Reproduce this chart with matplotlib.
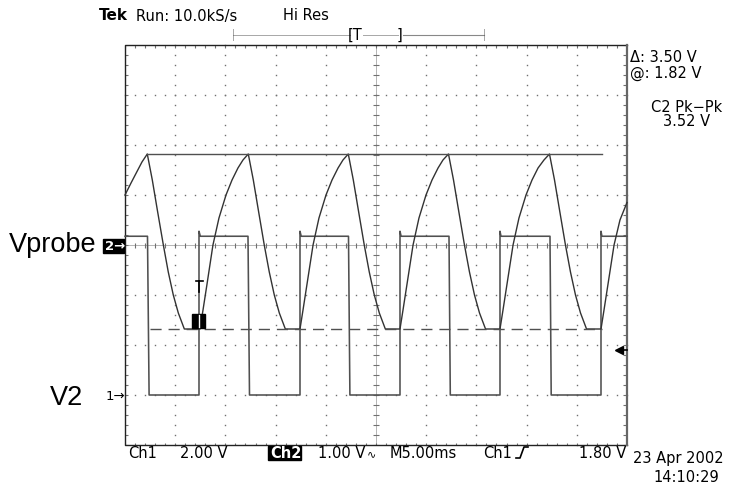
import numpy as np
import matplotlib
matplotlib.use("Agg")
import matplotlib.pyplot as plt
from matplotlib.collections import LineCollection
from matplotlib.patches import Rectangle

W, H = 737, 484

# scope settings
ms_per_div = 5.0
ch1_volts_per_div = 2.0
ch1_ground_div = -3.0
ch2_volts_per_div = 1.0
ch2_ground_div = 0.0
trig_level = 1.80

# Ch1 (V2) square wave: time in ms, volts
ch1_t = [-25.0, -22.76, -22.6, -17.63, -17.63, -17.5,
         -12.75, -12.6, -7.57, -7.57, -7.45,
         -2.74, -2.6, 2.39, 2.39, 2.5,
         7.27, 7.4, 12.35, 12.35, 12.45,
         17.33, 17.45, 22.41, 22.41, 22.5, 25.0]
ch1_v = [6.35, 6.35, 0.0, 0.0, 6.55, 6.35,
         6.35, 0.0, 0.0, 6.55, 6.35,
         6.35, 0.0, 0.0, 6.55, 6.35,
         6.35, 0.0, 0.0, 6.55, 6.35,
         6.35, 0.0, 0.0, 6.55, 6.35, 6.35]

# Ch2 (Vprobe): time in ms, volts
ch2_t = [-25.0, -24.40, -23.83, -23.31, -22.78,
         -22.28, -21.78, -21.18, -20.69, -20.19, -19.69, -19.09,
         -17.53, -17.23, -16.83, -16.24, -15.64, -14.94, -14.34, -13.75, -13.25, -12.72,
         -12.22, -11.72, -11.13, -10.63, -10.13, -9.63, -9.03,
         -7.57, -7.27, -6.87, -6.27, -5.68, -4.98, -4.38, -3.78, -3.29, -2.76,
         -2.26, -1.76, -1.17, -0.67, -0.17, 0.33, 0.93,
         2.39, 2.69, 3.09, 3.69, 4.28, 4.98, 5.58, 6.18, 6.67, 7.22,
         7.72, 8.22, 8.81, 9.31, 9.81, 10.31, 10.91,
         12.35, 12.65, 13.05, 13.65, 14.24, 14.94, 15.54, 16.14, 16.73, 17.28,
         17.78, 18.28, 18.87, 19.37, 19.87, 20.37, 20.97,
         22.41, 22.71, 23.11, 23.71, 24.30, 25.0]
ch2_v = [1.00, 1.24, 1.46, 1.66, 1.82,
         1.30, 0.70, 0.0, -0.54, -1.0, -1.36, -1.68,
         -1.68, -1.30, -0.78, 0.0, 0.54, 1.0, 1.30, 1.54, 1.70, 1.82,
         1.30, 0.70, 0.0, -0.54, -1.0, -1.36, -1.68,
         -1.68, -1.30, -0.78, 0.0, 0.54, 1.0, 1.30, 1.54, 1.70, 1.82,
         1.30, 0.70, 0.0, -0.54, -1.0, -1.36, -1.68,
         -1.68, -1.30, -0.78, 0.0, 0.54, 1.0, 1.30, 1.54, 1.70, 1.82,
         1.30, 0.70, 0.0, -0.54, -1.0, -1.36, -1.68,
         -1.68, -1.30, -0.78, 0.0, 0.54, 1.0, 1.30, 1.54, 1.70, 1.82,
         1.30, 0.70, 0.0, -0.54, -1.0, -1.36, -1.68,
         -1.68, -1.30, -0.78, 0.0, 0.50, 0.85]

# horizontal bar cursors on Ch2
cursor_at = 1.82
cursor_delta = 3.50
cursor_t0, cursor_t1 = -22.5, 22.5

fig = plt.figure(figsize=(W / 100, H / 100), dpi=100)
ax = fig.add_axes([125 / W, 1 - 445 / H, 502 / W, 400 / H])
ax.set_xlim(-5, 5)
ax.set_ylim(-4, 4)
ax.axis("off")

grid_c = "#707070"
dot = dict(ls="none", marker="s", ms=1.0, mec="none", mfc=grid_c, clip_on=False)

# graticule dots on the major lines
steps_x = np.arange(-5, 5.001, 0.2)
steps_y = np.arange(-4, 4.001, 0.2)
for gx in [-4, -3, -2, -1, 1, 2, 3, 4]:
    ax.plot(np.full_like(steps_y, gx), steps_y, **dot)
for gy in [-3, -2, -1, 1, 2, 3]:
    ax.plot(steps_x, np.full_like(steps_x, gy), **dot)

# centre cross with small ticks
ax.plot([-5, 5], [0, 0], color=grid_c, lw=0.72, ls=(0, (1, 1)))
ax.plot([0, 0], [-4, 4], color=grid_c, lw=0.72, ls=(0, (1, 1)))
segs = [[(x, -0.05), (x, 0.05)] for x in steps_x]
segs += [[(-0.05, y), (0.05, y)] for y in steps_y]
# border ticks
segs += [[(x, 4), (x, 3.95)] for x in steps_x]
segs += [[(x, -4), (x, -3.95)] for x in steps_x]
segs += [[(-5, y), (-4.94, y)] for y in steps_y]
segs += [[(5, y), (4.92, y)] for y in steps_y]
ax.add_collection(LineCollection(segs, colors=grid_c, linewidths=0.8))

# frame
ax.plot([5, -5, -5, 5], [4, 4, -4, -4], color="#222222", lw=1.0, clip_on=False)
ax.plot([5, 5], [-4, 4], color="#666666", lw=1.6, clip_on=False)

# traces
ax.plot(np.array(ch1_t) / ms_per_div,
        np.array(ch1_v) / ch1_volts_per_div + ch1_ground_div,
        color="#505050", lw=1.15, clip_on=False)
ax.plot(np.array(ch2_t) / ms_per_div,
        np.array(ch2_v) / ch2_volts_per_div + ch2_ground_div,
        color="#333333", lw=1.0, clip_on=False)

# cursors
ax.plot([-22.8 / ms_per_div, cursor_t1 / ms_per_div], [cursor_at, cursor_at],
        color="#505050", lw=1.0)
lo = cursor_at - cursor_delta
ax.plot([cursor_t0 / ms_per_div, cursor_t1 / ms_per_div], [lo, lo],
        color="#505050", lw=1.0, ls=(0, (8, 5)))

# trigger level arrow on the right edge
ty = trig_level / ch1_volts_per_div + ch1_ground_div
ax.plot([4.88, 5], [ty, ty], color="black", lw=1.2, clip_on=False)
ax.plot([4.84], [ty], marker="<", ms=6, color="black", clip_on=False)

# overlay in pixel coordinates for the screen annotations
ov = fig.add_axes([0, 0, 1, 1])
ov.set_xlim(0, W)
ov.set_ylim(H, 0)
ov.axis("off")

font = dict(family="DejaVu Sans", fontsize=10.5, va="center", ha="left")
ov.text(99, 16, "Tek", fontweight="bold", family="DejaVu Sans", fontsize=11,
        va="center", ha="left")
ov.text(136, 16, "Run: 10.0kS/s", **font)
ov.text(283, 16, "Hi Res", **font)

# record bar
ov.plot([233, 350], [35, 35], color="#555555", lw=0.72, ls=(0, (1, 1)))
ov.plot([363, 399], [35, 35], color="#555555", lw=0.72, ls=(0, (1, 1)))
ov.plot([403, 484], [35, 35], color="#888888", lw=0.8)
ov.plot([233, 233], [29, 41], color="#555555", lw=0.72, ls=(0, (1, 1)))
ov.plot([484, 484], [29, 41], color="#555555", lw=0.72, ls=(0, (1, 1)))
ov.text(348, 35, "[T", family="DejaVu Sans", fontsize=10.5, va="center", ha="left")
ov.text(397, 35, "]", family="DejaVu Sans", fontsize=10.5, va="center", ha="left")

# trigger position marker on the trace
ov.plot([196.5, 203], [281, 281], color="black", lw=1.2)
ov.plot([199.5, 199.5], [281, 292], color="black", lw=1.2)
ov.add_patch(Rectangle((192.5, 314), 12.5, 13.5, color="black", zorder=5))
ov.plot([198.8, 198.8], [315, 327], color="white", lw=1.0, zorder=6)

# right read-outs
ov.text(630, 58, "Δ: 3.50 V", **font)
ov.text(630, 73, "@: 1.82 V", **font)
ov.text(687, 107, "C2 Pk−Pk", family="DejaVu Sans", fontsize=10.5, va="center", ha="center")
ov.text(687, 121, "3.52 V", family="DejaVu Sans", fontsize=10.5, va="center", ha="center")

# bottom read-outs
by = 453
ov.text(128, by, "Ch1", **font)
ov.text(180, by, "2.00 V", **font)
ov.add_patch(Rectangle((268, 446), 33, 14, color="black"))
ov.text(270, by, "Ch2", color="white", fontweight="bold",
        family="DejaVu Sans", fontsize=10.5, va="center", ha="left")
ov.text(318, by, "1.00 V", **font)
ov.text(367, by + 1, "∿", family="DejaVu Sans", fontsize=8, va="center", ha="left")
ov.text(390, by, "M5.00ms", **font)
ov.text(483, by, "Ch1", **font)
ov.plot([516, 520, 524, 528], [458, 458, 447, 447], color="black", lw=1.2)
ov.text(626, by, "1.80 V", family="DejaVu Sans", fontsize=10.5, va="center", ha="right")
ov.text(633, 458, "23 Apr 2002", **font)
ov.text(653, 478, "14:10:29", **font)

# channel markers and labels
ov.add_patch(Rectangle((103, 239), 21, 14, color="black"))
ov.text(105, 246, "2→", color="white", fontweight="bold",
        family="DejaVu Sans", fontsize=9.5, va="center", ha="left")
ov.text(106, 396, "1→", family="DejaVu Sans", fontsize=9.5, va="center", ha="left")
ov.text(9, 245, "Vprobe", family="Liberation Sans", fontsize=19.5, va="center", ha="left")
ov.text(50, 398, "V2", family="Liberation Sans", fontsize=19.5, va="center", ha="left")

fig.savefig("out.png", dpi=100, facecolor="white")
